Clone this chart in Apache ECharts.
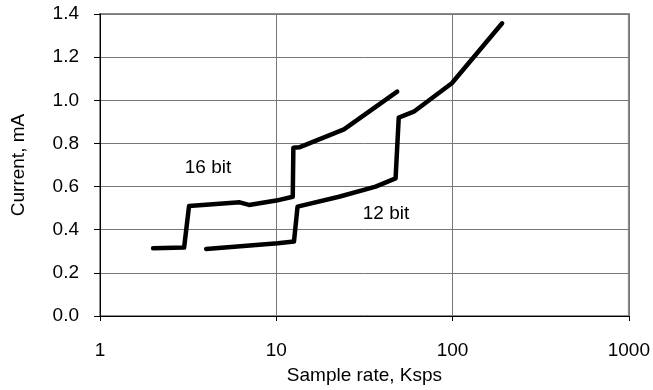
<!DOCTYPE html>
<html>
<head>
<meta charset="utf-8">
<script src="https://cdn.jsdelivr.net/npm/echarts@6/dist/echarts.min.js"></script>
<style>html,body{margin:0;padding:0;background:#fff}#c{width:653px;height:390px}</style>
</head>
<body>
<div id="c"></div>
<script>
const bit16X = [2.0, 3.0, 3.2, 6.2, 7.0, 10.0, 12.4, 12.5, 13.5, 24.2, 48.5];
const bit16Y = [0.314, 0.317, 0.51, 0.527, 0.515, 0.535, 0.553, 0.78, 0.782, 0.865, 1.04];
const bit12X = [4.0, 10.2, 12.6, 13.2, 22.7, 36.6, 47.5, 49.5, 60.2, 99, 191];
const bit12Y = [0.311, 0.337, 0.345, 0.507, 0.553, 0.6, 0.638, 0.92, 0.947, 1.079, 1.357];
const xTicks = [1, 10, 100, 1000];
const yTicks = [0, 0.2, 0.4, 0.6, 0.8, 1.0, 1.2, 1.4];
const labels = [{text: '16 bit', x: 208, y: 168}, {text: '12 bit', x: 386, y: 214}];

const FONT = 'Liberation Sans';
const FS = 19;
const chart = echarts.init(document.getElementById('c'), null, {renderer: 'canvas'});
const zip = (xs, ys) => xs.map((x, i) => [x, ys[i]]);
const lineStyle = {color: '#000', width: 4.5, cap: 'round', join: 'round'};
chart.setOption({
  animation: false,
  grid: {left: 100, right: 22, top: 14, bottom: 74, show: true, borderColor: '#8c8c8c', borderWidth: 2, backgroundColor: 'transparent'},
  xAxis: {
    type: 'log', logBase: 10, min: xTicks[0], max: xTicks[xTicks.length - 1],
    name: 'Sample rate, Ksps', nameLocation: 'middle', nameGap: 50,
    nameTextStyle: {fontFamily: FONT, fontSize: FS, color: '#000'},
    axisLine: {lineStyle: {color: '#000', width: 1}},
    axisTick: {show: true, length: 5, lineStyle: {color: '#000'}},
    minorTick: {show: false},
    axisLabel: {fontFamily: FONT, fontSize: FS, color: '#000', margin: 25, formatter: v => String(Math.round(v))},
    splitLine: {show: true, lineStyle: {color: '#777', width: 1}}
  },
  yAxis: {
    type: 'value', min: yTicks[0], max: yTicks[yTicks.length - 1], interval: 0.2,
    name: 'Current, mA', nameLocation: 'middle', nameGap: 72,
    nameTextStyle: {fontFamily: FONT, fontSize: FS, color: '#000'},
    axisLine: {show: true, lineStyle: {color: '#000', width: 1}},
    axisTick: {show: true, length: 6, lineStyle: {color: '#000'}},
    axisLabel: {fontFamily: FONT, fontSize: FS, color: '#000', margin: 21, formatter: v => v.toFixed(1)},
    splitLine: {show: true, lineStyle: {color: '#777', width: 1}}
  },
  series: [
    {name: '16 bit', type: 'line', data: zip(bit16X, bit16Y), showSymbol: false, lineStyle: lineStyle, itemStyle: {color: '#000'}},
    {name: '12 bit', type: 'line', data: zip(bit12X, bit12Y), showSymbol: false, lineStyle: lineStyle, itemStyle: {color: '#000'}}
  ],
  graphic: labels.map(l => ({type: 'text', x: l.x, y: l.y, style: {text: l.text, fontFamily: FONT, fontSize: FS, fill: '#000', align: 'center', verticalAlign: 'middle'}}))
});
</script>
</body>
</html>
